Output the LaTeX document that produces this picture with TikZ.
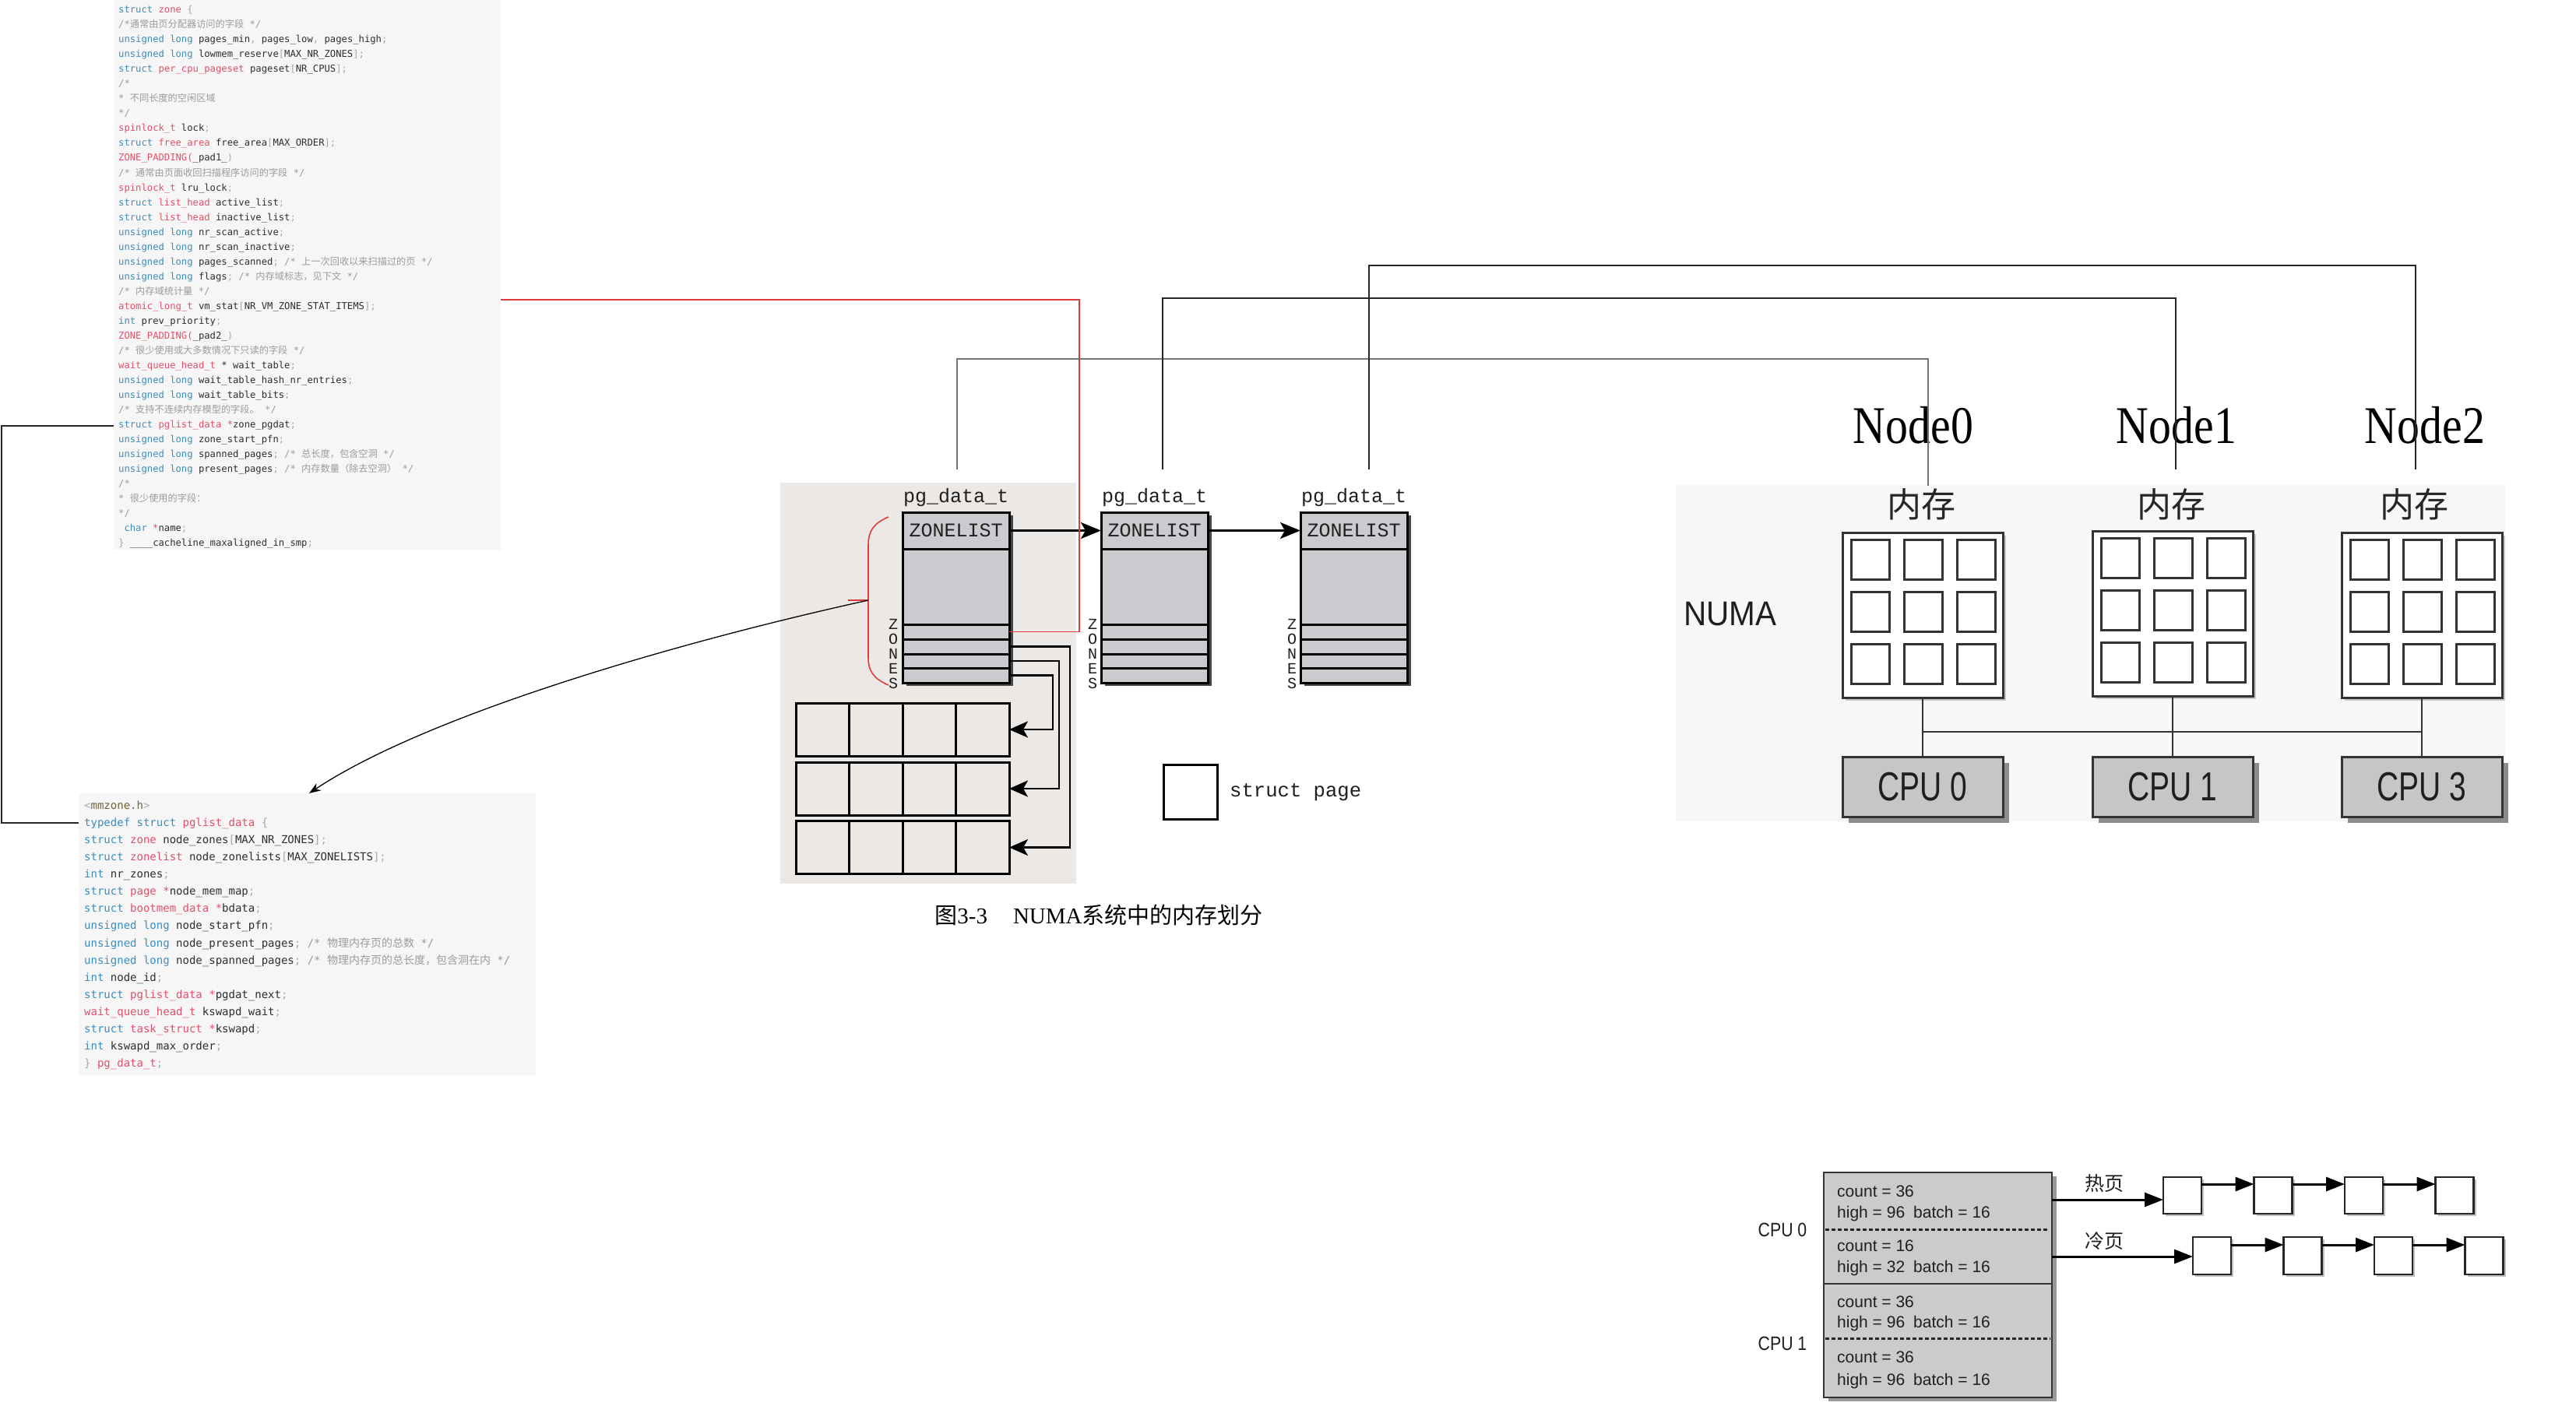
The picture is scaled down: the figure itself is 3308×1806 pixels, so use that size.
\documentclass[tikz,border=0pt]{standalone}
\usepackage{fontspec}
\usepackage{graphicx}
\setmainfont{Liberation Serif}
\newfontfamily\codefont{DejaVu Sans Mono}
\newfontfamily\cjk{Noto Sans CJK SC}
\newfontfamily\typefont{Liberation Mono}
\newfontfamily\arialfont{Liberation Sans}
\usetikzlibrary{arrows.meta,calc,shadows}
\definecolor{kwc}{HTML}{3C8DBC}
\definecolor{tyc}{HTML}{E2506A}
\definecolor{cmc}{HTML}{9B9B9B}
\definecolor{idc}{HTML}{2E2E2E}
\definecolor{punc}{HTML}{A8A8A8}
\definecolor{hdc}{HTML}{6E6238}
\definecolor{codebg}{HTML}{F6F6F6}
\definecolor{figbg}{HTML}{EBE8E5}
\definecolor{colfill}{HTML}{C9CBCF}
\definecolor{cpufill}{HTML}{C6C6C6}
\definecolor{pcfill}{HTML}{CBCBCB}
\definecolor{redc}{HTML}{E23B3B}
\definecolor{numabg}{HTML}{F7F7F7}
\newcommand\kwd[1]{\textcolor{kwc}{#1}}
\newcommand\typ[1]{\textcolor{tyc}{#1}}
\newcommand\cmt[1]{\textcolor{cmc}{#1}}
\newcommand\pun[1]{\textcolor{punc}{#1}}
\newcommand\hdr[1]{\textcolor{hdc}{#1}}
\newcommand\zh[1]{{\cjk #1}}
\tikzset{
  zcode/.style={anchor=base west,inner sep=0pt,text=idc,font=\codefont\fontsize{12.2}{14}\selectfont},
  pcode/.style={anchor=base west,inner sep=0pt,text=idc,font=\codefont\fontsize{14}{16}\selectfont},
  conn/.style={line width=1.5pt,draw=black!85},
  redline/.style={line width=1.6pt,draw=redc},
  zcol/.style={draw=black,line width=3pt,fill=colfill,minimum width=137pt,minimum height=219pt,inner sep=0pt,outer sep=0pt,drop shadow={shadow xshift=5pt,shadow yshift=-4pt,fill=black!72,opacity=1}},
  zlab/.style={minimum width=137pt,minimum height=47pt,inner sep=0pt,outer sep=0pt,text=black!88,font=\typefont\fontsize{25}{25}\selectfont},
  pglab/.style={inner sep=0pt,text=black!88,font=\typefont\fontsize{25}{25}\selectfont},
  zones/.style={inner sep=0pt,align=center,text=black!88,font=\typefont\fontsize{20}{19}\selectfont},
  grid/.style={draw=black,line width=3pt,minimum width=274pt,minimum height=68pt,inner sep=0pt,outer sep=0pt},
  thick3/.style={line width=3pt,draw=black},
  zarr/.style={line width=3pt,draw=black,-{Stealth[length=26pt,width=21pt,inset=6pt]}},
  garr/.style={line width=2.5pt,draw=black,-{Stealth[length=24pt,width=21pt,inset=6pt]}},
  legbox/.style={draw=black,line width=3pt,fill=white,minimum width=69pt,minimum height=70pt,inner sep=0pt,outer sep=0pt},
  memb/.style={draw=black!80,line width=3pt,fill=white,minimum width=206pt,minimum height=212pt,inner sep=0pt,outer sep=0pt,drop shadow={shadow xshift=4pt,shadow yshift=-4pt,fill=black!22,opacity=1}},
  cellsq/.style={draw=black!80,line width=3pt},
  cpub/.style={draw=black!80,line width=3pt,fill=cpufill,minimum width=206pt,minimum height=77pt,inner sep=0pt,outer sep=0pt,text=black!88,font=\arialfont\fontsize{52}{52}\selectfont,drop shadow={shadow xshift=8pt,shadow yshift=-8pt,fill=black!45,opacity=1}},
  bus/.style={line width=2.5pt,draw=black!80},
  nodelab/.style={inner sep=0pt,text=black,font=\fontsize{68}{68}\selectfont},
  memlab/.style={inner sep=0pt,text=black!85,font=\cjk\fontsize{44}{44}\selectfont},
  pcbox/.style={draw=black!80,line width=2.5pt,fill=pcfill,minimum width=293pt,minimum height=289pt,inner sep=0pt,outer sep=0pt,drop shadow={shadow xshift=6pt,shadow yshift=-5pt,fill=black!40,opacity=1}},
  pctext/.style={anchor=base west,inner sep=0pt,text=black!88,font=\arialfont\fontsize{21}{21}\selectfont},
  dotl/.style={line width=3pt,draw=black!85,dash pattern=on 5pt off 3pt},
  lbox/.style={draw=black!85,line width=2.5pt,fill=white,minimum width=49pt,minimum height=47pt,inner sep=0pt,outer sep=0pt,drop shadow={shadow xshift=3pt,shadow yshift=-3pt,fill=black!25,opacity=1}},
  larr/.style={line width=3pt,draw=black,-{Triangle[length=24pt,width=18pt]}},
  cpulab/.style={inner sep=0pt,text=black!88,font=\arialfont\fontsize{25}{25}\selectfont},
  cjklab/.style={inner sep=0pt,text=black!88,font=\cjk\fontsize{25}{25}\selectfont}
}
\begin{document}
\begin{tikzpicture}[x=1pt,y=-1pt]
\useasboundingbox (0,0) rectangle (3308,1806);
\fill[white] (0,0) rectangle (3308,1806);
% ---------- code backgrounds ----------
\fill[codebg] (146,0) rectangle (643,706);
\fill[codebg] (101,1019) rectangle (688,1382);
% ---------- struct zone code ----------
\node[zcode] (z1) at (152,17) {\kwd{struct} \typ{zone} \pun{\{}};
\node[zcode] (z2) at (152,36) {\cmt{/*\zh{通常由页分配器访问的字段} */}};
\node[zcode] (z3) at (152,55) {\kwd{unsigned long} pages\_min\pun{,} pages\_low\pun{,} pages\_high\pun{;}};
\node[zcode] (z4) at (152,74) {\kwd{unsigned long} lowmem\_reserve\pun{[}MAX\_NR\_ZONES\pun{];}};
\node[zcode] (z5) at (152,93) {\kwd{struct} \typ{per\_cpu\_pageset} pageset\pun{[}NR\_CPUS\pun{];}};
\node[zcode] (z6) at (152,112) {\cmt{/*}};
\node[zcode] (z7) at (152,131) {\cmt{* \zh{不同长度的空闲区域}}};
\node[zcode] (z8) at (152,150) {\cmt{*/}};
\node[zcode] (z9) at (152,169) {\typ{spinlock\_t} lock\pun{;}};
\node[zcode] (z10) at (152,188) {\kwd{struct} \typ{free\_area} free\_area\pun{[}MAX\_ORDER\pun{];}};
\node[zcode] (z11) at (152,207) {\typ{ZONE\_PADDING(}\_pad1\_\pun{)}};
\node[zcode] (z12) at (152,226) {\cmt{/* \zh{通常由页面收回扫描程序访问的字段} */}};
\node[zcode] (z13) at (152,245) {\typ{spinlock\_t} lru\_lock\pun{;}};
\node[zcode] (z14) at (152,264) {\kwd{struct} \typ{list\_head} active\_list\pun{;}};
\node[zcode] (z15) at (152,283) {\kwd{struct} \typ{list\_head} inactive\_list\pun{;}};
\node[zcode] (z16) at (152,302) {\kwd{unsigned long} nr\_scan\_active\pun{;}};
\node[zcode] (z17) at (152,321) {\kwd{unsigned long} nr\_scan\_inactive\pun{;}};
\node[zcode] (z18) at (152,340) {\kwd{unsigned long} pages\_scanned\pun{;} \cmt{/* \zh{上一次回收以来扫描过的页} */}};
\node[zcode] (z19) at (152,359) {\kwd{unsigned long} flags\pun{;} \cmt{/* \zh{内存域标志，见下文} */}};
\node[zcode] (z20) at (152,378) {\cmt{/* \zh{内存域统计量} */}};
\node[zcode] (z21) at (152,397) {\typ{atomic\_long\_t} vm\_stat\pun{[}NR\_VM\_ZONE\_STAT\_ITEMS\pun{];}};
\node[zcode] (z22) at (152,416) {\kwd{int} prev\_priority\pun{;}};
\node[zcode] (z23) at (152,435) {\typ{ZONE\_PADDING(}\_pad2\_\pun{)}};
\node[zcode] (z24) at (152,454) {\cmt{/* \zh{很少使用或大多数情况下只读的字段} */}};
\node[zcode] (z25) at (152,473) {\typ{wait\_queue\_head\_t} * wait\_table\pun{;}};
\node[zcode] (z26) at (152,492) {\kwd{unsigned long} wait\_table\_hash\_nr\_entries\pun{;}};
\node[zcode] (z27) at (152,511) {\kwd{unsigned long} wait\_table\_bits\pun{;}};
\node[zcode] (z28) at (152,530) {\cmt{/* \zh{支持不连续内存模型的字段。} */}};
\node[zcode] (z29) at (152,549) {\kwd{struct} \typ{pglist\_data} \typ{*}zone\_pgdat\pun{;}};
\node[zcode] (z30) at (152,568) {\kwd{unsigned long} zone\_start\_pfn\pun{;}};
\node[zcode] (z31) at (152,587) {\kwd{unsigned long} spanned\_pages\pun{;} \cmt{/* \zh{总长度，包含空洞} */}};
\node[zcode] (z32) at (152,606) {\kwd{unsigned long} present\_pages\pun{;} \cmt{/* \zh{内存数量（除去空洞）} */}};
\node[zcode] (z33) at (152,625) {\cmt{/*}};
\node[zcode] (z34) at (152,644) {\cmt{* \zh{很少使用的字段：}}};
\node[zcode] (z35) at (152,663) {\cmt{*/}};
\node[zcode] (z36) at (152,682) {\hspace*{7.3pt}\kwd{char} \typ{*}name\pun{;}};
\node[zcode] (z37) at (152,701) {\pun{\}} \_\_\_\_cacheline\_maxaligned\_in\_smp\pun{;}};
% ---------- pglist_data code ----------
\node[pcode] (p1) at (108,1039) {\pun{<}\hdr{mmzone.h}\pun{>}};
\node[pcode] (p2) at (108,1061) {\kwd{typedef struct} \typ{pglist\_data} \pun{\{}};
\node[pcode] (p3) at (108,1083) {\kwd{struct} \typ{zone} node\_zones\pun{[}MAX\_NR\_ZONES\pun{];}};
\node[pcode] (p4) at (108,1105) {\kwd{struct} \typ{zonelist} node\_zonelists\pun{[}MAX\_ZONELISTS\pun{];}};
\node[pcode] (p5) at (108,1127) {\kwd{int} nr\_zones\pun{;}};
\node[pcode] (p6) at (108,1149) {\kwd{struct} \typ{page} \typ{*}node\_mem\_map\pun{;}};
\node[pcode] (p7) at (108,1171) {\kwd{struct} \typ{bootmem\_data} \typ{*}bdata\pun{;}};
\node[pcode] (p8) at (108,1193) {\kwd{unsigned long} node\_start\_pfn\pun{;}};
\node[pcode] (p9) at (108,1216) {\kwd{unsigned long} node\_present\_pages\pun{;} \cmt{/* \zh{物理内存页的总数} */}};
\node[pcode] (p10) at (108,1238) {\kwd{unsigned long} node\_spanned\_pages\pun{;} \cmt{/* \zh{物理内存页的总长度，包含洞在内} */}};
\node[pcode] (p11) at (108,1260) {\kwd{int} node\_id\pun{;}};
\node[pcode] (p12) at (108,1282) {\kwd{struct} \typ{pglist\_data} \typ{*}pgdat\_next\pun{;}};
\node[pcode] (p13) at (108,1304) {\typ{wait\_queue\_head\_t} kswapd\_wait\pun{;}};
\node[pcode] (p14) at (108,1326) {\kwd{struct} \typ{task\_struct} \typ{*}kswapd\pun{;}};
\node[pcode] (p15) at (108,1348) {\kwd{int} kswapd\_max\_order\pun{;}};
\node[pcode] (p16) at (108,1370) {\pun{\}} \typ{pg\_data\_t}\pun{;}};
% ---------- left connector ----------
\coordinate (lc1) at (146,547);
\coordinate (lcx) at (2,800);
\coordinate (lc2) at (101,1057);
\draw[conn] (lc1) -| (lcx) |- (lc2);
% ---------- central figure ----------
\fill[figbg] (1002,620) rectangle (1382,1135);
\node[zcol] (c1) at (1227.5,767.5) {};
\node[zcol] (c2) at (1482.5,767.5) {};
\node[zcol] (c3) at (1738.5,767.5) {};
\node[zlab] (zl1) at (1227.5,681.5) {ZONELIST};
\node[zlab] (zl2) at (1482.5,681.5) {ZONELIST};
\node[zlab] (zl3) at (1738.5,681.5) {ZONELIST};
\foreach \c in {zl1,zl2,zl3}
  \draw[thick3] (\c.south west) -- (\c.south east);
\foreach \c in {c1,c2,c3}
  \foreach \o in {144,163,182,200}
    \draw[thick3] ($(\c.north west)+(0,\o)$) -- ($(\c.north east)+(0,\o)$);
\node[zones] (zs1) at (1147,840.5) {Z\\O\\N\\E\\S};
\node[zones] (zs2) at (1403,840.5) {Z\\O\\N\\E\\S};
\node[zones] (zs3) at (1659,840.5) {Z\\O\\N\\E\\S};
\node[pglab] (pl1) at (1227.5,639) {pg\_data\_t};
\node[pglab] (pl2) at (1482.5,639) {pg\_data\_t};
\node[pglab] (pl3) at (1738.5,639) {pg\_data\_t};
\draw[zarr] (zl1.east) -- (zl2.west);
\draw[zarr] (zl2.east) -- (zl3.west);
\node[grid] (g1) at (1159,937) {};
\node[grid] (g2) at (1159,1013) {};
\node[grid] (g3) at (1159,1088.5) {};
\foreach \g in {g1,g2,g3}
  \foreach \k in {1,2,3}
    \draw[thick3] ($(\g.north west)+(68.5*\k,0)$) -- ($(\g.south west)+(68.5*\k,0)$);
\coordinate (r1) at ($(c1.north east)+(0,153.5)$);
\coordinate (r2) at ($(c1.north east)+(0,172.5)$);
\coordinate (r3) at ($(c1.north east)+(0,191)$);
\coordinate (r4) at ($(c1.north east)+(0,209.5)$);
\draw[garr] (r2) -- ++(78,0) |- (g3.east);
\draw[garr] (r3) -- ++(64,0) |- (g2.east);
\draw[garr] (r4) -- ++(56,0) |- (g1.east);
\node[legbox] (sp) at (1528.5,1017) {};
\node[anchor=west,inner sep=0pt,text=black!88,font=\typefont\fontsize{25.6}{26}\selectfont] (spt) at (1579,1018) {struct page};
\node[inner sep=0pt,text=black,font=\fontsize{29}{30}\selectfont] (cap) at (1411,1175) {\zh{图}3-3\hspace{33pt}NUMA\zh{系统中的内存划分}};
% red connector and bracket
\coordinate (rs) at (643,385);
\draw[redline] (rs) -| ($(r1)+(90,0)$) -- (r1);
\draw[redline] (1141,664) .. controls (1122,672) and (1115,682) .. (1115,700) -- (1115,845) .. controls (1115,862) and (1122,872) .. (1141,880);
\coordinate (bm) at (1115,771);
\draw[redline] (1089,771) -- (bm);
\coordinate (ca) at (397,1019);
\draw[line width=1.3pt,-{Stealth[length=15pt,width=11pt]}] (bm) .. controls (865,826) and (547,919) .. (ca);
% ---------- NUMA ----------
\fill[numabg] (2152,622) rectangle (3217,1055);
\node[memb] (m0) at (2469,790) {};
\node[memb] (m1) at (2790,788) {};
\node[memb] (m2) at (3110,790) {};
\foreach \m in {m0,m1,m2}
  \foreach \i in {0,1,2}
    \foreach \j in {0,1,2}
      \draw[cellsq] ($(\m.north west)+(11+68*\i,9+67*\j)$) rectangle ++(49,51);
\node[cpub] (cpu0) at (2469,1010.5) {\scalebox{0.75}[1]{CPU 0}};
\node[cpub] (cpu1) at (2790,1010.5) {\scalebox{0.75}[1]{CPU 1}};
\node[cpub] (cpu3) at (3110,1010.5) {\scalebox{0.75}[1]{CPU 3}};
\coordinate (busy) at (0,940);
\draw[bus] (m0.south) -- (cpu0.north);
\draw[bus] (m1.south) -- (cpu1.north);
\draw[bus] (m2.south) -- (cpu3.north);
\draw[bus] (m0.south |- busy) -- (m2.south |- busy);
\node[inner sep=0pt,text=black!88,font=\arialfont\fontsize{44}{44}\selectfont] (numa) at (2222,789) {\scalebox{0.92}[1]{NUMA}};
\node[memlab] (ml0) at (2467,648) {内存};
\node[memlab] (ml1) at (2788,648) {内存};
\node[memlab] (ml2) at (3100,648) {内存};
\node[nodelab] (nl0) at (2457,546) {\scalebox{0.85}[1]{Node0}};
\node[nodelab] (nl1) at (2795,546) {\scalebox{0.85}[1]{Node1}};
\node[nodelab] (nl2) at (3114,546) {\scalebox{0.85}[1]{Node2}};
% top connectors
\coordinate (t1) at (1229,603);
\coordinate (t2) at (1493,603);
\coordinate (t3) at (1758,603);
\coordinate (k1) at (2476,461);
\coordinate (k2) at (2794,383);
\coordinate (k3) at (3102,341);
\coordinate (e1) at (2476,624);
\coordinate (e2) at (2794,603);
\coordinate (e3) at (3102,603);
\draw[line width=2pt,draw=black!55] (t1) |- (k1) -- (e1);
\draw[conn] (t2) |- (k2) -- (e2);
\draw[conn] (t3) |- (k3) -- (e3);
% ---------- per-cpu pageset ----------
\node[pcbox] (pc) at (2488.5,1650.5) {};
\coordinate (d1) at (0,1579);
\coordinate (d2) at (0,1649);
\coordinate (d3) at (0,1719);
\draw[dotl] ($(pc.west |- d1)+(2,0)$) -- ($(pc.east |- d1)+(-6,0)$);
\draw[line width=2.5pt,draw=black!80] (pc.west |- d2) -- (pc.east |- d2);
\draw[dotl] ($(pc.west |- d3)+(2,0)$) -- ($(pc.east |- d3)+(-2,0)$);
\node[pctext] (pt1) at (2359,1537.5) {count = 36};
\node[pctext] (pt2) at (2359,1564.5) {high = 96\hspace{11pt}batch = 16};
\node[pctext] (pt3) at (2359,1607.5) {count = 16};
\node[pctext] (pt4) at (2359,1634.5) {high = 32\hspace{11pt}batch = 16};
\node[pctext] (pt5) at (2359,1679.5) {count = 36};
\node[pctext] (pt6) at (2359,1705.5) {high = 96\hspace{11pt}batch = 16};
\node[pctext] (pt7) at (2359,1750.5) {count = 36};
\node[pctext] (pt8) at (2359,1779.5) {high = 96\hspace{11pt}batch = 16};
\node[cpulab] (cl0) at (2289,1580) {\scalebox{0.85}[1]{CPU 0}};
\node[cpulab] (cl1) at (2289,1726) {\scalebox{0.85}[1]{CPU 1}};
\node[lbox] (h1) at (2802.5,1535.5) {};
\node[lbox] (h2) at (2919,1535.5) {};
\node[lbox] (h3) at (3035.5,1535.5) {};
\node[lbox] (h4) at (3152,1535.5) {};
\node[lbox,minimum height=48pt] (q1) at (2840.5,1613) {};
\node[lbox,minimum height=48pt] (q2) at (2957,1613) {};
\node[lbox,minimum height=48pt] (q3) at (3073.5,1613) {};
\node[lbox,minimum height=48pt] (q4) at (3190,1613) {};
\coordinate (hy) at (0,1541);
\coordinate (hcy) at (0,1521);
\coordinate (cy) at (0,1614);
\coordinate (ccy) at (0,1599);
\draw[larr] (pc.east |- hy) -- (h1.west |- hy);
\draw[larr] (h1.east |- hcy) -- (h2.west |- hcy);
\draw[larr] (h2.east |- hcy) -- (h3.west |- hcy);
\draw[larr] (h3.east |- hcy) -- (h4.west |- hcy);
\draw[larr] (pc.east |- cy) -- (q1.west |- cy);
\draw[larr] (q1.east |- ccy) -- (q2.west |- ccy);
\draw[larr] (q2.east |- ccy) -- (q3.west |- ccy);
\draw[larr] (q3.east |- ccy) -- (q4.west |- ccy);
\node[cjklab] (hot) at (2702,1520) {热页};
\node[cjklab] (cold) at (2702,1594) {冷页};
\end{tikzpicture}
\end{document}
